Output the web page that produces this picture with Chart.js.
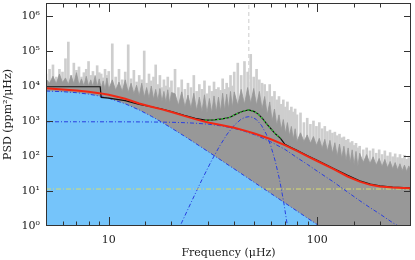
<!DOCTYPE html>
<html>
<head>
<meta charset="utf-8">
<script src="https://cdn.jsdelivr.net/npm/chart.js@4/dist/chart.umd.min.js"></script>
<style>
  html, body { margin: 0; padding: 0; background: #fff; }
  #wrap { width: 415px; height: 260px; }
</style>
</head>
<body>
<div id="wrap"><canvas id="psdChart" width="415" height="260"></canvas></div>
<script>
// power spectrum (raw spikes = light grey, smoothed = dark grey)
const specFreq = [
  5.0, 5.2, 5.4, 5.6, 5.8, 6.0, 6.2, 6.4, 6.6, 6.8, 7.0, 7.2, 7.4, 7.6, 7.8, 8.0, 8.2, 8.4, 8.6, 8.8, 9.0, 9.2, 9.4, 9.6, 9.8, 10.0,
  10.4, 10.8, 11.2, 11.6, 12.0, 12.4, 12.8, 13.2, 13.6, 14.0, 14.4, 14.8, 15.2, 15.6, 16.0, 16.4, 16.8, 17.2, 17.6, 18.0, 18.4, 18.8, 19.2, 19.6, 20.0,
  20.8, 21.6, 22.4, 23.2, 24.0, 24.8, 25.6, 26.4, 27.2, 28.0, 28.8, 29.6, 30.4, 31.2, 32.0, 32.8, 33.6, 34.4, 35.2, 36.0, 36.8, 37.6, 38.4, 39.2, 40.0,
  41.6, 43.2, 44.8, 46.4, 48.0, 49.6, 51.2, 52.8, 54.4, 56.0, 57.6, 59.2, 60.8, 62.4, 64.0, 65.6, 67.2, 68.8, 70.4, 72.0, 73.6, 75.2, 76.8, 78.4, 80.0,
  83.2, 86.4, 89.6, 92.8, 96.0, 99.2, 102.4, 105.6, 108.8, 112.0, 115.2, 118.4, 121.6, 124.8, 128.0, 131.2, 134.4, 137.6, 140.8, 144.0, 147.2, 150.4, 153.6, 156.8, 160.0,
  166.4, 172.8, 179.2, 185.6, 192.0, 198.4, 204.8, 211.2, 217.6, 224.0, 230.4, 236.8, 243.2, 249.6, 256.0, 262.4, 268.8, 275.2, 281.6
];
const specRaw = [
  22000, 30000, 40000, 18000, 30000, 25000, 60000, 180000, 20000, 45000, 28000, 35000, 18000, 24000, 30000, 50000, 20000, 26000, 16000, 38000, 24000, 22000, 17000, 30000, 20000, 26000,
  160000, 18000, 30000, 15000, 25000, 150000, 16000, 28000, 13000, 20000, 15000, 100000, 12000, 22000, 14000, 18000, 40000, 11000, 20000, 9000, 15000, 10000, 18000, 9000, 14000,
  30000, 9000, 15000, 8000, 12000, 9000, 20000, 7000, 11000, 8000, 14000, 6000, 10000, 7000, 13000, 8000, 9000, 7500, 16000, 8000, 12000, 9000, 20000, 10000, 25000,
  45000, 20000, 50000, 25000, 80000, 18000, 30000, 15000, 12000, 11000, 7000, 11000, 5000, 7000, 4000, 5000, 3000, 4000, 2500, 3500, 2000, 2500, 1800, 2200, 1500,
  1700, 900, 1200, 800, 1000, 700, 900, 600, 700, 500, 550, 450, 480, 380, 420, 330, 350, 280, 300, 240, 260, 200, 230, 170, 190,
  150, 170, 140, 160, 120, 150, 110, 140, 100, 125, 95, 115, 90, 110, 85, 105, 80, 90, 63
];
const specSmooth = [
  16000, 12000, 19000, 11500, 22000, 12500, 17000, 11000, 20000, 11500, 24000, 10500, 16000, 10000, 19000, 10000, 15000, 9500, 20000, 9500, 16000, 8500, 14000, 8000, 17000, 8000,
  15000, 7500, 13000, 7000, 15000, 6500, 12000, 6000, 10500, 5200, 12000, 4800, 9000, 4500, 10000, 4200, 8000, 3900, 8500, 3600, 7000, 3400, 7800, 3100, 6500,
  6000, 2800, 6800, 2500, 5500, 2300, 6200, 2000, 4800, 1850, 5600, 1700, 4400, 1700, 5200, 1800, 4800, 1900, 6200, 2000, 5800, 2200, 7000, 2400, 6800,
  2800, 8000, 3000, 9000, 3200, 8500, 2800, 7000, 2200, 5000, 1500, 3500, 1000, 2200, 750, 1500, 560, 1100, 450, 900, 380, 700, 300, 600, 260,
  460, 260, 400, 230, 360, 200, 320, 165, 300, 140, 280, 120, 240, 100, 220, 88, 190, 75, 170, 65, 150, 56, 135, 50, 120,
  65, 110, 60, 95, 54, 85, 50, 80, 46, 70, 43, 65, 40, 60, 38, 55, 36, 52, 40
];

// background model components
const modelFreq = [5, 6, 7, 8, 9, 10, 12, 14, 16, 18, 20, 23, 26, 30, 35, 40, 45, 50, 55, 60, 70, 80, 90, 100, 120, 140, 160, 180, 200, 230, 260, 282];
const granLow = [7190, 6890, 6440, 5860, 5180, 4460, 3100, 2070, 1370, 918, 629, 373, 233, 133, 72.5, 42.7, 26.7, 17.5, 12.0, 8.47, 4.57, 2.68, 1.67, 1.10, 0.53, 0.29, 0.17, 0.11, 0.07, 0.04, 0.025, 0.018];
const granHigh = [950, 950, 950, 949, 948, 948, 946, 942, 937, 929, 919, 896, 865, 810, 719, 614, 506, 406, 321, 252, 155, 90, 57, 37, 18, 9.3, 5.3, 3.3, 2.2, 1.25, 0.8, 0.6];
const fitTotal = [8600, 8000, 7400, 6800, 6250, 5600, 4300, 3150, 2550, 2150, 1800, 1400, 1130, 910, 760, 640, 530, 440, 360, 300, 205, 140, 98, 72, 42, 26, 18.5, 15, 13.5, 12.6, 12.2, 12];
const whiteNoise = 11.4;

// oscillation envelope
const envFreq = [18, 20, 22, 25, 28, 31, 34, 37, 40, 43, 45, 47, 49, 51, 54, 57, 60, 63, 66, 69, 72, 75, 78];
const envPower = [0.08, 0.3, 1.0, 5.1, 21, 70, 190, 422, 757, 1107, 1270, 1330, 1270, 1107, 757, 422, 190, 70, 21, 5.1, 1.0, 0.3, 0.08];
const numax = 47;

// binned spectrum (black) and the fitted hump (green)
const binFreq = [5, 9.1, 9.2, 10, 12, 14, 16, 18, 20, 23, 26, 29, 32, 35, 38, 41, 44, 47, 50, 52, 54.5, 57, 60, 63, 66.7, 70, 75, 80, 90, 100, 120, 140, 160, 180, 200, 230, 260, 279, 282];
const binPower = [9500, 9500, 4700, 4500, 3800, 3000, 2550, 2200, 1850, 1450, 1200, 1060, 1070, 1150, 1260, 1600, 1900, 2070, 1850, 1600, 1200, 850, 600, 430, 320, 215, 175, 145, 102, 75, 44, 28, 19.5, 15.8, 14, 13, 12.5, 12.3, 8];
const humpFrom = 11, humpTo = 25;

const xRange = [5, 282];
const yRange = [1, 2.35e6];
const xLabels = [10, 100];

const pts = (xs, ys) => xs.map((x, i) => ({ x: x, y: ys[i] }));
const sup = ['⁰', '¹', '²', '³', '⁴', '⁵', '⁶', '⁷'];
const isDecade = v => Math.abs(Math.log10(v) - Math.round(Math.log10(v))) < 1e-9;
const serif = { family: 'DejaVu Serif', size: 11 };

// inward ticks on all four sides plus the frame
const frameTicks = {
  id: 'frameTicks',
  afterDatasetsDraw(chart) {
    const { ctx, chartArea: a, scales: { x, y } } = chart;
    ctx.save();
    ctx.strokeStyle = '#333';
    ctx.lineWidth = 1;
    ctx.strokeRect(a.left + 0.5, a.top + 0.5, a.right - a.left - 1, a.bottom - a.top - 1);
    ctx.beginPath();
    x.ticks.forEach(t => {
      if (t.value <= x.min || t.value >= x.max) return;
      const px = Math.round(x.getPixelForValue(t.value)) + 0.5;
      const len = isDecade(t.value) ? 9 : 4.5;
      ctx.moveTo(px, a.bottom); ctx.lineTo(px, a.bottom - len);
      ctx.moveTo(px, a.top); ctx.lineTo(px, a.top + len);
    });
    y.ticks.forEach(t => {
      if (!isDecade(t.value) || t.value <= y.min || t.value >= y.max) return;
      const py = Math.round(y.getPixelForValue(t.value)) + 0.5;
      ctx.moveTo(a.left, py); ctx.lineTo(a.left + 7, py);
      ctx.moveTo(a.right, py); ctx.lineTo(a.right - 7, py);
    });
    ctx.stroke();
    ctx.restore();
  }
};

const ctx = document.getElementById('psdChart');
new Chart(ctx, {
  type: 'line',
  data: {
    datasets: [
      {
        data: pts([numax, numax], yRange),
        borderColor: 'rgb(205,205,205)', borderWidth: 1, borderDash: [4, 3],
        pointRadius: 0, order: 20
      },
      {
        type: 'bar',
        data: pts(specFreq, specRaw),
        backgroundColor: 'rgb(206,206,206)', barThickness: 2, grouped: false, order: 19
      },
      {
        data: pts(specFreq, specSmooth),
        borderColor: 'rgb(152,152,152)', backgroundColor: 'rgb(152,152,152)',
        borderWidth: 0.8, fill: 'start', pointRadius: 0, order: 18
      },
      {
        data: pts(modelFreq, granLow),
        borderColor: '#2a3fe0', backgroundColor: 'rgb(117,196,250)',
        borderWidth: 1, borderDash: [4, 2, 1, 2], fill: 'start', pointRadius: 0, order: 17
      },
      {
        data: pts(modelFreq, granHigh),
        borderColor: '#2a3fe0', borderWidth: 1, borderDash: [4, 2, 1, 2],
        pointRadius: 0, order: 16
      },
      {
        data: pts(envFreq, envPower),
        borderColor: '#2a3fe0', borderWidth: 1, borderDash: [4, 2, 1, 2],
        pointRadius: 0, order: 15
      },
      {
        data: pts(xRange, [whiteNoise, whiteNoise]),
        borderColor: 'rgb(218,220,110)', borderWidth: 1.2, borderDash: [5, 2, 1, 2],
        pointRadius: 0, order: 14
      },
      {
        data: pts(binFreq, binPower),
        borderColor: '#111', borderWidth: 1.2, pointRadius: 0, order: 13
      },
      {
        data: pts(modelFreq, fitTotal),
        borderColor: 'rgb(240,40,20)', borderWidth: 2, pointRadius: 0, order: 12
      },
      {
        data: pts(binFreq.slice(humpFrom, humpTo), binPower.slice(humpFrom, humpTo)),
        borderColor: '#3c3', borderWidth: 1.2, borderDash: [2, 2], pointRadius: 0, order: 11
      }
    ]
  },
  options: {
    responsive: false,
    animation: false,
    layout: { padding: { top: 3, right: 4, left: 0, bottom: 0 } },
    plugins: { legend: { display: false }, tooltip: { enabled: false } },
    scales: {
      x: {
        type: 'logarithmic', min: xRange[0], max: xRange[1], offset: false,
        grid: { display: false, drawTicks: false, offset: false },
        border: { display: false },
        ticks: {
          autoSkip: false, maxRotation: 0, padding: 8, color: '#222', font: serif,
          callback: v => xLabels.includes(v) ? String(v) : ''
        },
        title: {
          display: true, text: 'Frequency (μHz)', color: '#222', font: serif,
          padding: { top: 0, bottom: 0 }
        },
        afterFit: s => { s.height = 34; s.paddingLeft = 0; s.paddingRight = 0; }
      },
      y: {
        type: 'logarithmic', min: yRange[0], max: yRange[1], beginAtZero: false,
        grid: { display: false, drawTicks: false },
        border: { display: false },
        ticks: {
          autoSkip: false, padding: 6, color: '#222', font: serif,
          callback: v => isDecade(v) ? '10' + sup[Math.round(Math.log10(v))] : ''
        },
        title: {
          display: true, text: 'PSD (ppm²/μHz)', color: '#222', font: serif,
          padding: { top: 2, bottom: 0 }
        },
        afterFit: s => { s.width = 46; s.paddingTop = 0; s.paddingBottom = 0; }
      }
    }
  },
  plugins: [frameTicks]
});
</script>
</body>
</html>
